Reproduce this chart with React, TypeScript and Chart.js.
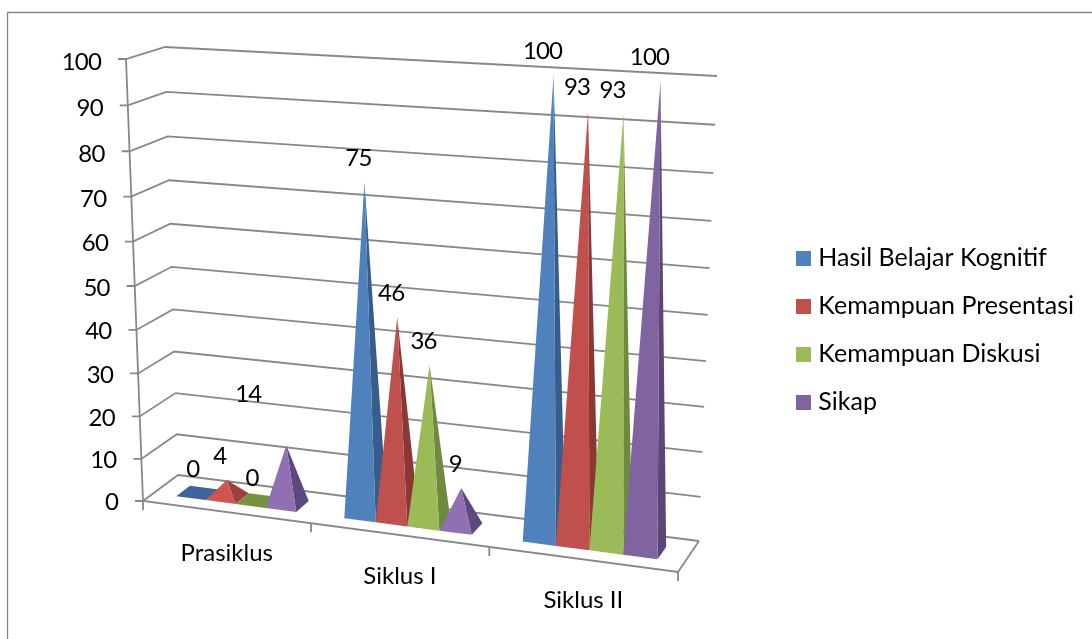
import React, { useEffect, useRef } from "react";
import { Chart, registerables } from "chart.js";

Chart.register(...registerables);

const categories = ["Prasiklus", "Siklus I", "Siklus II"];
const seriesNames = ["Hasil Belajar Kognitif", "Kemampuan Presentasi", "Kemampuan Diskusi", "Sikap"];
const hasilBelajar = [0, 75, 100];
const presentasi = [4, 46, 93];
const diskusi = [0, 36, 93];
const sikap = [14, 9, 100];
const seriesValues = [hasilBelajar, presentasi, diskusi, sikap];

const frontColors = ["#4F81BD", "#C0504D", "#9BBB59", "#8064A2"];
const sideColors = ["#375D8C", "#8A3836", "#6F8A3F", "#5B4677"];
const flatColors = ["#3E6597", "#A84441", "#76933C", "#6A5288"];
const lightFront = ["#4F81BD", "#CE5552", "#9BBB59", "#8E70B3"];
const lightSide = ["#375D8C", "#A0403E", "#6F8A3F", "#5E4880"];

const FONT = "Lato, Carlito, sans-serif";
const GRID = "#888888";
type Pt = [number, number];

// Corners of the projected 3D box
const box = {
  f00: [143, 501] as Pt, f10: [678, 572] as Pt, f01: [126, 59] as Pt, f11: [697, 92] as Pt,
  b00: [178, 475] as Pt, b10: [699, 541] as Pt, b01: [165, 47] as Pt, b11: [717, 76] as Pt,
};
const warpU = (u: number) => 0.913 * u + 0.087 * u * u;
const warpV = (v: number) => 0.9457 * v + 0.0543 * v * v;
const mix = (a: number, b: number, k: number) => a + (b - a) * k;

function project(u: number, v: number, w: number): Pt {
  const t = warpU(u), s = warpV(v);
  const out: Pt = [0, 0];
  for (const i of [0, 1]) {
    const f = mix(mix(box.f00[i], box.f10[i], t), mix(box.f01[i], box.f11[i], t), s);
    const b = mix(mix(box.b00[i], box.b10[i], t), mix(box.b01[i], box.b11[i], t), s);
    out[i] = mix(f, b, w);
  }
  return out;
}

function poly(ctx: CanvasRenderingContext2D, pts: Pt[], fill?: string) {
  ctx.beginPath();
  pts.forEach((p, i) => (i ? ctx.lineTo(p[0], p[1]) : ctx.moveTo(p[0], p[1])));
  if (fill) {
    ctx.closePath();
    ctx.fillStyle = fill;
    ctx.fill();
  } else {
    ctx.stroke();
  }
}

const categoryNudge: Pt[] = [[-7, -24], [-6, -24], [-11, -24]];
const labelNudge: Record<string, Pt> = {
  "3-0": [-38, -51],
  "0-0": [-5, -24],
  "2-0": [-5, -22],
};

function legendSwatch(color: string) {
  const c = document.createElement("canvas");
  c.width = 15;
  c.height = 15;
  const g = c.getContext("2d")!;
  g.fillStyle = color;
  g.fillRect(0, 0, 15, 15);
  return c;
}

const pyramidPlugin = {
  id: "pyramid3d",
  beforeDatasetsDraw(chart: any) {
    const { ctx, chartArea: area, scales } = chart;
    const yScale = scales.y;
    const xScale = scales.x;
    const uOf = (px: number) => (px - area.left) / area.width;
    const vOf = (val: number) => (area.bottom - yScale.getPixelForValue(val)) / area.height;

    ctx.save();
    // frame
    ctx.strokeStyle = GRID;
    ctx.lineWidth = 1.3;
    poly(ctx, [[7.5, 639], [7.5, 12.5], [1092, 12.5]]);

    // walls and grid
    ctx.lineWidth = 1.8;
    yScale.ticks.forEach((tick: any) => {
      const v = vOf(tick.value);
      const front = project(0, v, 0);
      poly(ctx, [[front[0] - 8, front[1]], front, project(0, v, 1), project(1, v, 1)]);
    });
    poly(ctx, [project(0, 1, 0), project(0, 0, 0), project(1, 0, 0), project(1, 0, 1)]);
    const n = categories.length;
    for (let c = 0; c <= n; c++) {
      const p = project(c / n, 0, 0);
      poly(ctx, [p, [p[0], p[1] + 9]]);
    }

    // pyramids
    const apexes: Pt[][] = [];
    chart.data.datasets.forEach((ds: any, i: number) => {
      apexes[i] = [];
      chart.getDatasetMeta(i).data.forEach((el: any, j: number) => {
        const uL = uOf(el.x - el.width / 2);
        const uR = uOf(el.x + el.width / 2);
        const uM = uOf(el.x);
        const value = ds.data[j];
        const apex = project(uM, vOf(value), 0.5);
        apexes[i][j] = apex;
        const fl = project(uL, 0, 0.3), fr = project(uR, 0, 0.3);
        const br = project(uR, 0, 0.7), bl = project(uL, 0, 0.7);
        if (value === 0) {
          poly(ctx, [fl, fr, br, bl], flatColors[i]);
        } else {
          const small = value < 20;
          poly(ctx, [fr, br, apex], small ? lightSide[i] : sideColors[i]);
          poly(ctx, [fl, fr, apex], small ? lightFront[i] : frontColors[i]);
        }
      });
    });

    // tick labels, data labels, category labels
    ctx.fillStyle = "#000";
    ctx.textBaseline = "middle";
    ctx.font = `24px ${FONT}`;
    (ctx as any).letterSpacing = "-0.8px";
    ctx.textAlign = "right";
    yScale.ticks.forEach((tick: any) => {
      const v = vOf(tick.value);
      const p = project(0, v, 0);
      ctx.fillText(String(tick.label), p[0] - 25, p[1] + 1 + 2 * v);
    });
    ctx.textAlign = "center";
    chart.data.datasets.forEach((ds: any, i: number) => {
      ds.data.forEach((val: number, j: number) => {
        const nudge = labelNudge[`${i}-${j}`] || categoryNudge[j];
        const a = apexes[i][j];
        ctx.fillText(String(val), a[0] + nudge[0], a[1] + nudge[1]);
      });
    });
    (ctx as any).letterSpacing = "0px";
    ctx.font = `24px ${FONT}`;
    xScale.getLabels().forEach((label: string, c: number) => {
      const p = project((c + 0.5) / n, 0, 0);
      ctx.fillText(label, p[0] + 1, p[1] + 41);
    });
    ctx.restore();
    return false;
  },
};

export default function App() {
  const ref = useRef<HTMLCanvasElement>(null);
  useEffect(() => {
    document.body.style.margin = "0";
    const chart = new Chart(ref.current!, {
      type: "bar",
      data: {
        labels: categories,
        datasets: seriesNames.map((name, i) => ({
          label: name,
          data: seriesValues[i],
          backgroundColor: frontColors[i],
          borderWidth: 0,
          categoryPercentage: 0.72,
          barPercentage: 1,
        })),
      },
      options: {
        responsive: false,
        animation: false,
        devicePixelRatio: 1,
        layout: { padding: { left: 143, top: 60, bottom: 39, right: 8 } },
        scales: {
          x: { display: false },
          y: { display: false, min: 0, max: 100, ticks: { stepSize: 10 } },
        },
        plugins: {
          tooltip: { enabled: false },
          legend: {
            position: "right",
            labels: {
              usePointStyle: true,
              pointStyleWidth: 4,
              boxHeight: 15,
              padding: 23,
              color: "#000",
              font: { family: FONT, size: 25 },
              generateLabels(chart: any) {
                return (Chart.defaults.plugins.legend.labels as any)
                  .generateLabels(chart)
                  .map((item: any, i: number) => ({ ...item, pointStyle: legendSwatch(frontColors[i]) }));
              },
            },
          },
        },
      },
      plugins: [pyramidPlugin],
    } as any);
    return () => chart.destroy();
  }, []);
  return <canvas ref={ref} width={1092} height={639} style={{ display: "block" }} />;
}
